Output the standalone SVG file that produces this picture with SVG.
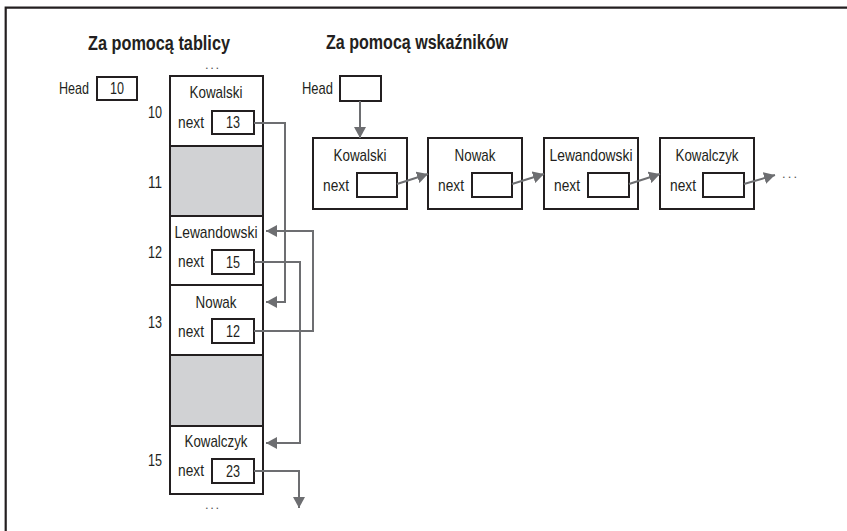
<svg xmlns="http://www.w3.org/2000/svg" width="847" height="531" viewBox="0 0 847 531">
<defs>
<style>
text{font-family:"Liberation Sans","DejaVu Sans",sans-serif;fill:#231f20;font-size:17px}
.t{font-size:20px;font-weight:bold}
.c{text-anchor:middle}
.e{text-anchor:end}
.n{font-size:16px}
.d{font-size:13px;fill:#555}
.box{fill:#fff;stroke:#231f20;stroke-width:2}
.gray{fill:#d1d2d4;stroke:#231f20;stroke-width:2}
.arr{fill:none;stroke:#6d6e71;stroke-width:2;marker-end:url(#ah)}
.frame{fill:none;stroke:#231f20;stroke-width:2.2}
</style>
<marker id="ah" markerUnits="userSpaceOnUse" markerWidth="12" markerHeight="12" refX="11" refY="6" orient="auto">
<path d="M0,0 L11,6 L0,12 Z" fill="#6d6e71"/>
</marker>
</defs>
<rect width="847" height="531" fill="#fff"/>
<path class="frame" d="M5.7,531 V7.7 H847"/>

<text class="t" x="88" y="50" textLength="142" lengthAdjust="spacingAndGlyphs">Za pomocą tablicy</text>
<text class="t" x="326" y="49" textLength="182" lengthAdjust="spacingAndGlyphs">Za pomocą wskaźników</text>

<g id="head-array">
<text x="59" y="94" textLength="30" lengthAdjust="spacingAndGlyphs">Head</text>
<rect class="box" x="97" y="77" width="40" height="23"/>
<text class="c n" x="117" y="94" textLength="14" lengthAdjust="spacingAndGlyphs">10</text>
</g>

<g id="array">
<text class="c d" x="212" y="69" textLength="14" lengthAdjust="spacing">...</text>
<rect class="box" x="170" y="76" width="93" height="418"/>
<rect class="gray" x="170" y="146" width="93" height="70"/>
<rect class="gray" x="170" y="355" width="93" height="71"/>
<line x1="170" y1="285" x2="263" y2="285" stroke="#231f20" stroke-width="2"/>
<text class="c d" x="212" y="509" textLength="14" lengthAdjust="spacing">...</text>
<text class="e n" x="162" y="118" textLength="14" lengthAdjust="spacingAndGlyphs">10</text>
<text class="e n" x="162" y="188" textLength="14" lengthAdjust="spacingAndGlyphs">11</text>
<text class="e n" x="162" y="258" textLength="14" lengthAdjust="spacingAndGlyphs">12</text>
<text class="e n" x="162" y="328" textLength="14" lengthAdjust="spacingAndGlyphs">13</text>
<text class="e n" x="162" y="466" textLength="14" lengthAdjust="spacingAndGlyphs">15</text>
</g>

<g id="cell-10">
<text class="c" x="216" y="98" textLength="53" lengthAdjust="spacingAndGlyphs">Kowalski</text>
<text x="178" y="128" textLength="26" lengthAdjust="spacingAndGlyphs">next</text>
<rect class="box" x="212" y="111" width="42" height="23"/>
<text class="c n" x="233" y="128" textLength="14" lengthAdjust="spacingAndGlyphs">13</text>
</g>
<g id="cell-12">
<text class="c" x="216" y="238" textLength="83" lengthAdjust="spacingAndGlyphs">Lewandowski</text>
<text x="178" y="267" textLength="26" lengthAdjust="spacingAndGlyphs">next</text>
<rect class="box" x="212" y="250" width="42" height="24"/>
<text class="c n" x="233" y="268" textLength="14" lengthAdjust="spacingAndGlyphs">15</text>
</g>
<g id="cell-13">
<text class="c" x="216" y="308" textLength="41" lengthAdjust="spacingAndGlyphs">Nowak</text>
<text x="178" y="337" textLength="26" lengthAdjust="spacingAndGlyphs">next</text>
<rect class="box" x="212" y="319" width="42" height="24"/>
<text class="c n" x="233" y="337" textLength="14" lengthAdjust="spacingAndGlyphs">12</text>
</g>
<g id="cell-15">
<text class="c" x="216" y="447" textLength="63" lengthAdjust="spacingAndGlyphs">Kowalczyk</text>
<text x="178" y="476" textLength="26" lengthAdjust="spacingAndGlyphs">next</text>
<rect class="box" x="212" y="459" width="42" height="24"/>
<text class="c n" x="233" y="477" textLength="14" lengthAdjust="spacingAndGlyphs">23</text>
</g>

<g id="head-ptr">
<text x="302" y="94" textLength="31" lengthAdjust="spacingAndGlyphs">Head</text>
<rect class="box" x="340" y="76" width="41" height="25"/>
</g>

<g id="node-kowalski">
<rect class="box" x="313" y="138" width="94" height="71"/>
<text class="c" x="360" y="161" textLength="53" lengthAdjust="spacingAndGlyphs">Kowalski</text>
<text x="323" y="191" textLength="26" lengthAdjust="spacingAndGlyphs">next</text>
<rect class="box" x="357" y="173" width="40" height="24"/>
</g>
<g id="node-nowak">
<rect class="box" x="428" y="138" width="94" height="71"/>
<text class="c" x="475" y="161" textLength="41" lengthAdjust="spacingAndGlyphs">Nowak</text>
<text x="438" y="191" textLength="26" lengthAdjust="spacingAndGlyphs">next</text>
<rect class="box" x="472" y="173" width="40" height="24"/>
</g>
<g id="node-lewandowski">
<rect class="box" x="544" y="138" width="94" height="71"/>
<text class="c" x="591" y="161" textLength="83" lengthAdjust="spacingAndGlyphs">Lewandowski</text>
<text x="554" y="191" textLength="26" lengthAdjust="spacingAndGlyphs">next</text>
<rect class="box" x="588" y="173" width="41" height="24"/>
</g>
<g id="node-kowalczyk">
<rect class="box" x="660" y="138" width="94" height="71"/>
<text class="c" x="707" y="161" textLength="63" lengthAdjust="spacingAndGlyphs">Kowalczyk</text>
<text x="670" y="191" textLength="26" lengthAdjust="spacingAndGlyphs">next</text>
<rect class="box" x="703" y="173" width="41" height="24"/>
</g>
<text class="d" x="782" y="178" textLength="15" lengthAdjust="spacing">...</text>

<g id="connectors">
<path class="arr" d="M254,123 H285 V302 H266"/>
<path class="arr" d="M254,262 H300 V443 H266"/>
<path class="arr" d="M254,331 H313 V231 H266"/>
<path class="arr" d="M254,471 H299 V508"/>
<path class="arr" d="M360,101 V138"/>
<path class="arr" d="M397,184 L428,174"/>
<path class="arr" d="M512,184 L544,174"/>
<path class="arr" d="M629,184 L660,174"/>
<path class="arr" d="M744,184 L775,175"/>
</g>
</svg>
